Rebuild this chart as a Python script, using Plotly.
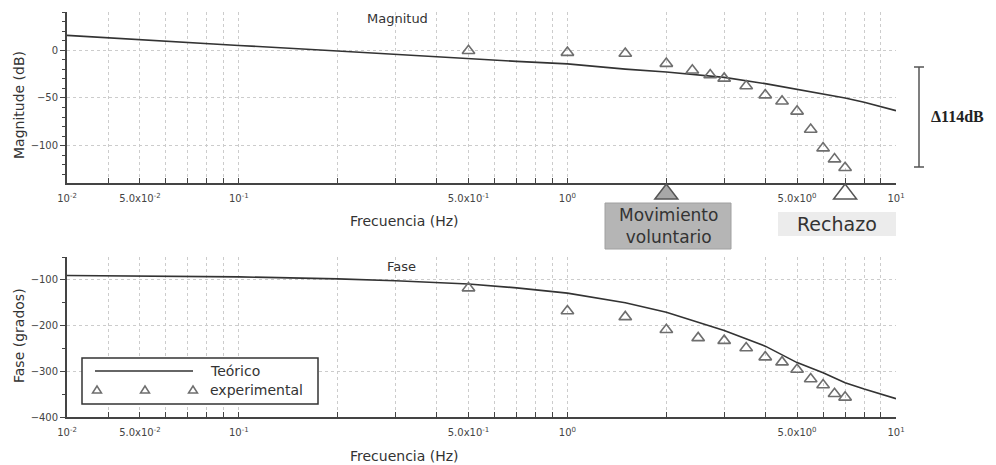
import math
import plotly.graph_objects as go

# ---------------- data ----------------
freq_teo = [0.03, 0.05, 0.1, 0.2, 0.3, 0.5, 0.7, 1.0, 1.5, 2.0, 3.0, 4.0, 5.0, 6.0, 7.0, 8.0, 10.0]
mag_teo = [15.5, 11.3, 5.0, -0.9, -4.5, -8.8, -11.7, -14.3, -19.8, -22.8, -28.4, -35.0, -41.0, -46.0, -50.0, -54.5, -63.3]
fase_teo = [-90.6, -91.5, -93.4, -97.8, -102.0, -109.0, -117.5, -129.0, -150.0, -171.0, -211.0, -245.0, -281.0, -303.0, -325.0, -339.0, -360.0]

freq_exp_mag = [0.5, 1.0, 1.5, 2.0, 2.4, 2.72, 3.0, 3.5, 4.0, 4.5, 5.0, 5.5, 6.0, 6.5, 7.0]
mag_exp = [-0.5, -2.5, -3.5, -14.0, -21.0, -26.0, -29.5, -37.5, -47.0, -53.5, -64.0, -83.0, -102.5, -114.0, -123.0]

freq_exp_fase = [0.5, 1.0, 1.5, 2.0, 2.5, 3.0, 3.5, 4.0, 4.5, 5.0, 5.5, 6.0, 6.5, 7.0]
fase_exp = [-118, -168, -181, -209, -227, -233, -249, -269, -280, -296, -317, -330, -349, -357]

marca_voluntario = 2.0
marca_rechazo = 7.0

grid_vals = [0.03, 0.04, 0.05, 0.06, 0.07, 0.08, 0.09,
             0.1, 0.2, 0.3, 0.4, 0.5, 0.6, 0.7, 0.8, 0.9,
             1, 2, 3, 4, 5, 6, 7, 8, 9, 10]
labels = {0.03: "10<sup>-2</sup>", 0.05: "5.0x10<sup>-2</sup>", 0.1: "10<sup>-1</sup>",
          0.5: "5.0x10<sup>-1</sup>", 1: "10<sup>0</sup>", 5: "5.0x10<sup>0</sup>", 10: "10<sup>1</sup>"}
grid_text = [labels.get(v, "") for v in grid_vals]

# page has an 8px body margin: the figure is sized to fill the rest of the window
OFF = 8
W, H = 996 - OFF, 465 - OFF
def px(x):
    return (x - OFF) / W
def py(y):
    return 1 - (y - OFF) / H

X0, X1 = 67, 896                 # plot area, window pixels
LOGMIN, LOGMAX = -1.5229, 1.0
def xpix(f):
    return X0 + (math.log10(f) - LOGMIN) / (LOGMAX - LOGMIN) * (X1 - X0)

FONT = "DejaVu Sans"
LINE = "#333333"
MK = "#6e6e6e"
AX = "#444444"
GRID = "#cccccc"

fig = go.Figure()

# magnitude
fig.add_trace(go.Scatter(x=freq_teo, y=mag_teo, mode="lines", line=dict(color=LINE, width=1.6),
                         xaxis="x", yaxis="y", showlegend=False))
fig.add_trace(go.Scatter(x=freq_exp_mag, y=mag_exp, mode="markers",
                         marker=dict(symbol="triangle-up-open", size=11, color=MK, line=dict(width=1.6)),
                         xaxis="x", yaxis="y", showlegend=False))

# phase
fig.add_trace(go.Scatter(x=freq_teo, y=fase_teo, mode="lines", line=dict(color=LINE, width=1.6),
                         xaxis="x2", yaxis="y2", showlegend=False))
fig.add_trace(go.Scatter(x=freq_exp_fase, y=fase_exp, mode="markers",
                         marker=dict(symbol="triangle-up-open", size=11, color=MK, line=dict(width=1.6)),
                         xaxis="x2", yaxis="y2", showlegend=False))

xdom = [px(X0), px(X1)]
xcommon = dict(type="log", range=[LOGMIN, LOGMAX], tickmode="array", tickvals=grid_vals, ticktext=grid_text,
               showgrid=True, gridcolor=GRID, griddash="3px,3px", gridwidth=1,
               showline=True, linecolor=AX, linewidth=1.8, ticks="inside", ticklen=5,
               tickcolor=AX, tickfont=dict(family=FONT, size=10, color="#444"),
               ticklabelstandoff=5, zeroline=False, domain=xdom)
ycommon = dict(showgrid=True, gridcolor=GRID, griddash="3px,3px", gridwidth=1,
               showline=True, linecolor=AX, linewidth=1.8, ticks="outside", ticklen=5,
               tickcolor=AX, tickfont=dict(family=FONT, size=10, color="#444"), zeroline=False)

fig.update_layout(
    width=W, height=H, margin=dict(l=0, r=0, t=0, b=0, autoexpand=False),
    paper_bgcolor="white", plot_bgcolor="white",
    font=dict(family=FONT, color="#333"),
    xaxis=dict(**xcommon, anchor="y"),
    yaxis=dict(**ycommon, range=[-139, 40], tickmode="linear", tick0=0, dtick=50,
               minor=dict(tickmode="linear", tick0=0, dtick=10, ticklen=3, tickcolor=AX,
                          ticks="outside", showgrid=False),
               domain=[py(183), py(12)], anchor="x"),
    xaxis2=dict(**xcommon, anchor="y2"),
    yaxis2=dict(**ycommon, range=[-400, -50], tickmode="linear", tick0=0, dtick=100,
                minor=dict(tickmode="linear", tick0=0, dtick=50, ticklen=3, tickcolor=AX,
                           ticks="outside", showgrid=False),
                domain=[py(417), py(257)], anchor="x2"),
)

ann = []
def text(x, y, s, size=12, color="#333", xanchor="center", angle=0, family=FONT):
    ann.append(dict(x=px(x), y=py(y), xref="paper", yref="paper", text=s, showarrow=False,
                    xanchor=xanchor, yanchor="middle", textangle=angle,
                    font=dict(family=family, size=size, color=color)))

text(397, 18, "Magnitud", 13)
text(401, 266, "Fase", 13)
text(19, 105, "Magnitude (dB)", 14, angle=-90)
text(19, 336, "Fase (grados)", 14, angle=-90)
text(404, 221, "Frecuencia (Hz)", 14)
text(404, 456, "Frecuencia (Hz)", 14)
text(668, 226, "Movimiento<br>voluntario", 17, color="#333")
text(837, 224, "Rechazo", 19, color="#333")
text(929, 117, "<b>Δ114dB</b>", 16, color="#222", xanchor="left", family="Liberation Serif")
text(208, 371, "Teórico", 14, xanchor="left")
text(208, 390, "experimental", 14, xanchor="left")
fig.update_layout(annotations=ann)

def tri_path(cx, top, bottom, half):
    return (f"M {px(cx - half)} {py(bottom)} L {px(cx + half)} {py(bottom)} "
            f"L {px(cx)} {py(top)} Z")

shapes = [
    dict(type="rect", xref="paper", yref="paper", x0=px(605), x1=px(731), y0=py(249), y1=py(203),
         fillcolor="#b5b5b5", line=dict(color="#a0a0a0", width=1), layer="below"),
    dict(type="rect", xref="paper", yref="paper", x0=px(778), x1=px(896), y0=py(236), y1=py(212),
         fillcolor="#ececec", line=dict(width=0), layer="below"),
    dict(type="line", xref="paper", yref="paper", x0=px(919), x1=px(919), y0=py(67), y1=py(167),
         line=dict(color="#555", width=1.5)),
    dict(type="line", xref="paper", yref="paper", x0=px(914), x1=px(924), y0=py(67), y1=py(67),
         line=dict(color="#555", width=1.5)),
    dict(type="line", xref="paper", yref="paper", x0=px(914), x1=px(924), y0=py(167), y1=py(167),
         line=dict(color="#555", width=1.5)),
    dict(type="rect", xref="paper", yref="paper", x0=px(82), x1=px(318), y0=py(404), y1=py(358),
         fillcolor="white", line=dict(color="#333", width=1.5), layer="above"),
    dict(type="line", xref="paper", yref="paper", x0=px(95), x1=px(193), y0=py(371), y1=py(371),
         line=dict(color=LINE, width=1.6)),
    # marks under the magnitude frequency axis
    dict(type="path", xref="paper", yref="paper",
         path=tri_path(xpix(marca_voluntario), 184, 199, 11.5),
         fillcolor="#a8a8a8", line=dict(color="#555", width=1.5)),
    dict(type="path", xref="paper", yref="paper",
         path=tri_path(xpix(marca_rechazo), 184, 199, 11.5),
         fillcolor="white", line=dict(color="#555", width=1.5)),
]
for cx in (97, 145, 193):
    shapes.append(dict(type="path", xref="paper", yref="paper", path=tri_path(cx, 386, 393, 4.5),
                       line=dict(color=MK, width=1.5), fillcolor="rgba(0,0,0,0)"))
fig.update_layout(shapes=shapes)

fig.write_html("out.html")
